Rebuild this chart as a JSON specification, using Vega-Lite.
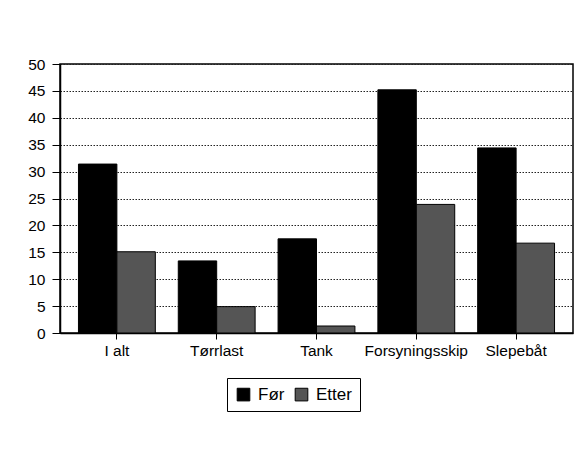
{
  "$schema": "https://vega.github.io/schema/vega-lite/v6.json",
  "width": 513,
  "height": 269,
  "autosize": "none",
  "padding": {"left": 60, "top": 64, "right": 6, "bottom": 125},
  "background": "white",
  "data": {
    "values": [
      {"kategori": "I alt", "serie": "Før", "verdi": 31.4},
      {"kategori": "I alt", "serie": "Etter", "verdi": 15.1},
      {"kategori": "Tørrlast", "serie": "Før", "verdi": 13.4},
      {"kategori": "Tørrlast", "serie": "Etter", "verdi": 4.9},
      {"kategori": "Tank", "serie": "Før", "verdi": 17.5},
      {"kategori": "Tank", "serie": "Etter", "verdi": 1.3},
      {"kategori": "Forsyningsskip", "serie": "Før", "verdi": 45.2},
      {"kategori": "Forsyningsskip", "serie": "Etter", "verdi": 23.9},
      {"kategori": "Slepebåt", "serie": "Før", "verdi": 34.4},
      {"kategori": "Slepebåt", "serie": "Etter", "verdi": 16.7}
    ]
  },
  "mark": {"type": "bar", "stroke": "black", "strokeWidth": 1},
  "encoding": {
    "x": {
      "field": "kategori",
      "type": "nominal",
      "sort": ["I alt", "Tørrlast", "Tank", "Forsyningsskip", "Slepebåt"],
      "scale": {"paddingInner": 0.23, "paddingOuter": 0.185},
      "axis": {
        "title": null,
        "labelAngle": 0,
        "labelFont": "Liberation Sans",
        "labelFontSize": 15.5,
        "labelColor": "black",
        "labelOverlap": false,
        "labelPadding": 4,
        "tickColor": "black",
        "tickSize": 6,
        "domainColor": "black",
        "domainWidth": 1.5
      }
    },
    "xOffset": {"field": "serie", "type": "nominal", "sort": ["Før", "Etter"]},
    "y": {
      "field": "verdi",
      "type": "quantitative",
      "scale": {"domain": [0, 50]},
      "axis": {
        "title": null,
        "values": [0, 5, 10, 15, 20, 25, 30, 35, 40, 45, 50],
        "labelFont": "Liberation Sans",
        "labelFontSize": 15.5,
        "labelColor": "black",
        "labelPadding": 7,
        "tickColor": "black",
        "tickSize": 8,
        "domainColor": "black",
        "domainWidth": 1.5,
        "gridColor": "#222222",
        "gridDash": [1.5, 1.5],
        "gridWidth": 1
      }
    },
    "color": {
      "field": "serie",
      "type": "nominal",
      "scale": {"domain": ["Før", "Etter"], "range": ["black", "#555555"]},
      "legend": {
        "title": null,
        "orient": "none",
        "legendX": 167,
        "legendY": 314,
        "direction": "horizontal",
        "strokeColor": "black",
        "padding": 8,
        "symbolType": "square",
        "symbolSize": 160,
        "symbolStrokeColor": "black",
        "symbolStrokeWidth": 1,
        "labelFont": "Liberation Sans",
        "labelFontSize": 17,
        "labelColor": "black",
        "labelOffset": 6,
        "columnPadding": 8
      }
    }
  },
  "config": {"view": {"stroke": "black", "strokeWidth": 1.5}}
}
